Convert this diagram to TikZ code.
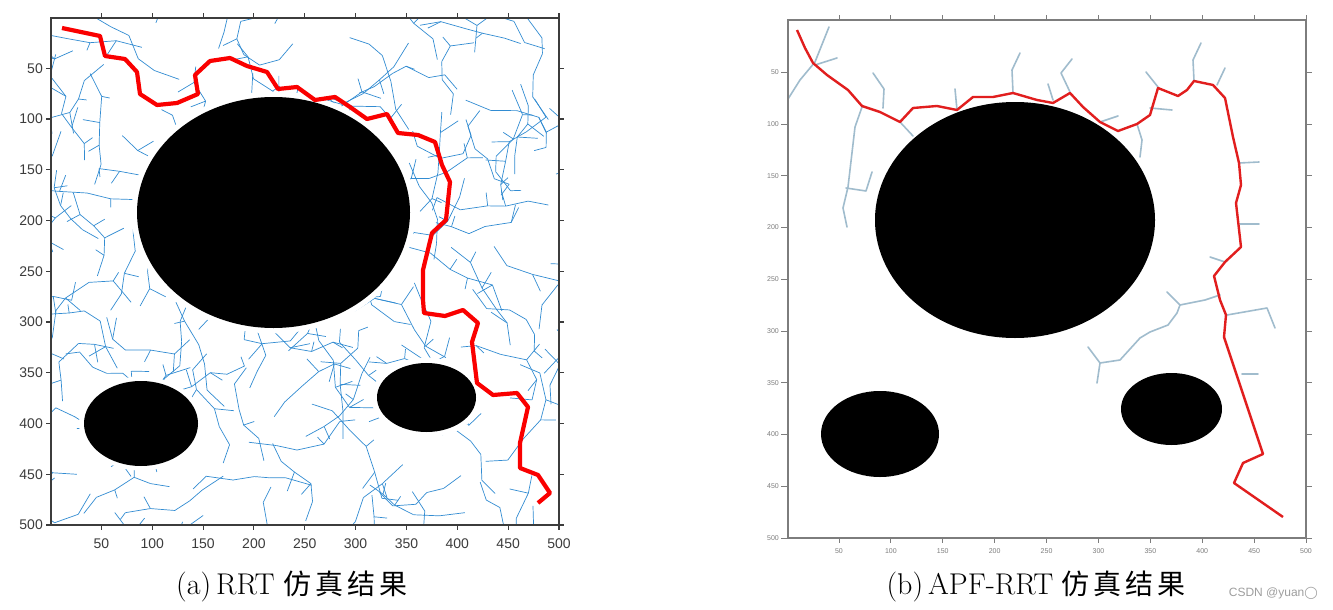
\documentclass[tikz,border=0pt]{standalone}
\usepackage{fontspec}
\newfontfamily\axfont{Liberation Sans}
\newfontfamily\cjk{Noto Sans CJK SC}
\newfontfamily\djv{DejaVu Sans}
\definecolor{treeblue}{RGB}{50,140,210}
\definecolor{treegray}{RGB}{160,188,205}
\definecolor{pathred}{RGB}{250,0,0}
\definecolor{pathredb}{RGB}{225,30,30}
\definecolor{axdark}{RGB}{60,60,60}
\definecolor{axgray}{RGB}{125,125,125}
\begin{document}
\begin{tikzpicture}[x=1pt,y=-1pt,
  rrtline/.style={draw=treeblue,line width=0.7pt},
  apfline/.style={draw=treegray,line width=1.6pt,line join=round,line cap=round},
  obst/.style={fill=black},
  margin/.style={fill=white},
  redpathA/.style={draw=pathred,line width=4.2pt,line join=round},
  redpathB/.style={draw=pathredb,line width=2.4pt,line join=round},
  axA/.style={draw=axdark,line width=1.1pt},
  axB/.style={draw=axgray,line width=1.6pt},
  ticklabA/.style={font=\axfont\fontsize{14}{16}\selectfont,text=axdark,inner sep=0pt},
  ticklabB/.style={font=\axfont\fontsize{7}{8}\selectfont,text=axgray,inner sep=0pt},
  caption/.style={font=\fontsize{30}{36}\selectfont,inner sep=0pt,anchor=base}]
\useasboundingbox[fill=white] (0,0) rectangle (1333,610);

% ---------------- left plot: RRT ----------------
\begin{scope}
\clip (51,18) rectangle (559,525);
\begin{scope}[shift={(50.5,17.5)},xscale=1.017,yscale=1.015]
\pgfmathsetseed{4271}
\foreach \gi in {0,...,10}{
  \foreach \gj in {0,...,10}{
    \pgfmathsetmacro\rsx{\gi*45.5+rnd*45.5}
    \pgfmathsetmacro\rsy{\gj*45.5+rnd*45.5}
    \pgfmathsetmacro\rsa{rnd*360}
    \xdef\rtx{\rsx}\xdef\rty{\rsy}\xdef\rta{\rsa}
    \foreach \k in {1,...,5}{
      \pgfmathsetmacro\rtb{\rta+rand*55}
      \pgfmathsetmacro\rtL{15+rnd*13}
      \pgfmathsetmacro\rnx{\rtx+\rtL*cos(\rtb)}
      \pgfmathsetmacro\rny{\rty+\rtL*sin(\rtb)}
      \draw[rrtline] (\rtx,\rty) -- (\rnx,\rny);
      \pgfmathsetmacro\rtc{\rtb+ifthenelse(rnd<0.5,1,-1)*(40+rnd*70)}
      \pgfmathsetmacro\rtM{ifthenelse(rnd<0.55,0,8+rnd*14)}
      \draw[rrtline] (\rnx,\rny) -- ++(\rtc:\rtM);
      \xdef\rtx{\rnx}\xdef\rty{\rny}\xdef\rta{\rtb}
    }
  }
}
\end{scope}
\end{scope}
% obstacles
\fill[margin] (273.5,212.5) ellipse [x radius=142, y radius=121];
\fill[margin] (141,423.5) ellipse [x radius=62, y radius=47];
\fill[margin] (426.5,397.5) ellipse [x radius=55, y radius=40];
\fill[obst] (273.5,212.5) ellipse [x radius=136.5, y radius=115.5];
\fill[obst] (141,423.5) ellipse [x radius=57, y radius=42.5];
\fill[obst] (426.5,397.5) ellipse [x radius=49.5, y radius=34.5];
% path
\draw[redpathA] (62,28) -- (100,36) -- (105,56) -- (125,59) -- (137,72) -- (140,94) -- (157,105) -- (177,103) -- (198,94) -- (195,75) -- (210,61) -- (230,58) -- (247,66) -- (267,72) -- (278,89) -- (297,87) -- (315,100) -- (335,97) -- (350,107) -- (367,119) -- (387,114) -- (398,133) -- (418,135) -- (435,142) -- (442,165) -- (450,182) -- (446,220) -- (432,233) -- (423,270) -- (423,300) -- (424,313) -- (445,316) -- (463,310) -- (478,323) -- (472,342) -- (477,383) -- (493,395) -- (517,393) -- (528,407) -- (520,443) -- (520,468) -- (538,475) -- (550,493) -- (538,503);
% frame
\draw[axA] (51,18) rectangle (559,525);
\foreach \v [count=\n] in {50,100,...,500}{
  \pgfmathsetmacro\px{50.5+1.017*\v}
  \pgfmathsetmacro\py{17.5+1.015*\v}
  \draw[axA] (\px,525) -- (\px,530);
  \draw[axA] (\px,18) -- (\px,13);
  \draw[axA] (51,\py) -- (46,\py);
  \draw[axA] (559,\py) -- (564,\py);
  \node[ticklabA,anchor=north] (axl\n) at (\px,539) {\v};
  \node[ticklabA,anchor=east] (ayl\n) at (43,\py) {\v};
}

% ---------------- right plot: APF-RRT ----------------
\draw[apfline] (829,27) -- (815,62) -- (800,80) -- (788,99);
\draw[apfline] (837,58) -- (815,65);
\draw[apfline] (873,73) -- (884,89) -- (883,108);
\draw[apfline] (862,107) -- (855,127) -- (848,187) -- (843,208) -- (847,227);
\draw[apfline] (846,188) -- (866,191) -- (872,172);
\draw[apfline] (900,122) -- (913,136);
\draw[apfline] (955,89) -- (957,110);
\draw[apfline] (1020,53) -- (1012,70) -- (1013,93);
\draw[apfline] (1048,84) -- (1053,100);
\draw[apfline] (1072,59) -- (1061,73) -- (1070,92);
\draw[apfline] (1118,116) -- (1100,122);
\draw[apfline] (1137,124) -- (1142,140) -- (1140,157);
\draw[apfline] (1146,72) -- (1158,87);
\draw[apfline] (1150,108) -- (1172,110);
\draw[apfline] (1201,43) -- (1193,60) -- (1194,81);
\draw[apfline] (1225,68) -- (1217,85);
\draw[apfline] (1239,163) -- (1259,162);
\draw[apfline] (1240,224) -- (1259,224);
\draw[apfline] (1210,257) -- (1225,262);
\draw[apfline] (1220,295) -- (1205,300) -- (1180,305) -- (1177,313) -- (1168,325) -- (1150,332) -- (1140,338) -- (1120,360) -- (1100,363) -- (1088,347);
\draw[apfline] (1100,363) -- (1097,383);
\draw[apfline] (1167,292) -- (1180,305);
\draw[apfline] (1227,315) -- (1267,308) -- (1275,328);
\draw[apfline] (1242,374) -- (1258,374);
% obstacles
\fill[obst] (1015,220) ellipse [x radius=140, y radius=118];
\fill[obst] (880,434) ellipse [x radius=59, y radius=43];
\fill[obst] (1171.5,409) ellipse [x radius=50.5, y radius=36];
% path
\draw[redpathB] (797,30) -- (805,48) -- (813,63) -- (827,75) -- (848,90) -- (862,106) -- (880,112) -- (900,122) -- (913,108) -- (937,106) -- (957,110) -- (973,97) -- (993,97) -- (1013,93) -- (1037,100) -- (1053,103) -- (1070,93) -- (1083,107) -- (1100,122) -- (1118,131) -- (1137,124) -- (1150,115) -- (1158,88) -- (1178,96) -- (1187,90) -- (1194,81) -- (1213,85) -- (1225,98) -- (1233,137) -- (1239,163) -- (1241,185) -- (1236,203) -- (1241,247) -- (1225,262) -- (1214,276) -- (1220,300) -- (1226,315) -- (1224,337) -- (1263,454) -- (1243,463) -- (1234,483) -- (1283,517);
% frame
\draw[axB] (788,20) rectangle (1306,538);
\foreach \v [count=\n] in {50,100,...,500}{
  \pgfmathsetmacro\px{787.1+1.0378*\v}
  \pgfmathsetmacro\py{20.5+1.035*\v}
  \draw[axB,line width=0.9pt] (\px,538) -- (\px,543);
  \draw[axB,line width=0.9pt] (\px,20) -- (\px,15);
  \draw[axB,line width=0.9pt] (788,\py) -- (781,\py);
  \draw[axB,line width=0.9pt] (1306,\py) -- (1312,\py);
  \node[ticklabB,anchor=north] (bxl\n) at (\px,548) {\v};
  \node[ticklabB,anchor=east] (byl\n) at (779,\py) {\v};
}

% ---------------- captions ----------------
\node[caption] (capa) at (292,594) {(a)\,RRT {\cjk\fontsize{28}{34}\selectfont 仿\hspace{4pt}真\hspace{4pt}结\hspace{4pt}果}};
\node[caption] (capb) at (1036,594) {(b)\,APF-RRT\hspace{8pt}{\cjk\fontsize{28}{34}\selectfont 仿\hspace{4pt}真\hspace{4pt}结\hspace{4pt}果}};
\node[font=\axfont\fontsize{12}{14}\selectfont,text=black!38,anchor=east,inner sep=0pt] (wm) at (1318,593) {CSDN @yuan{\djv ◯}};
\end{tikzpicture}
\end{document}
